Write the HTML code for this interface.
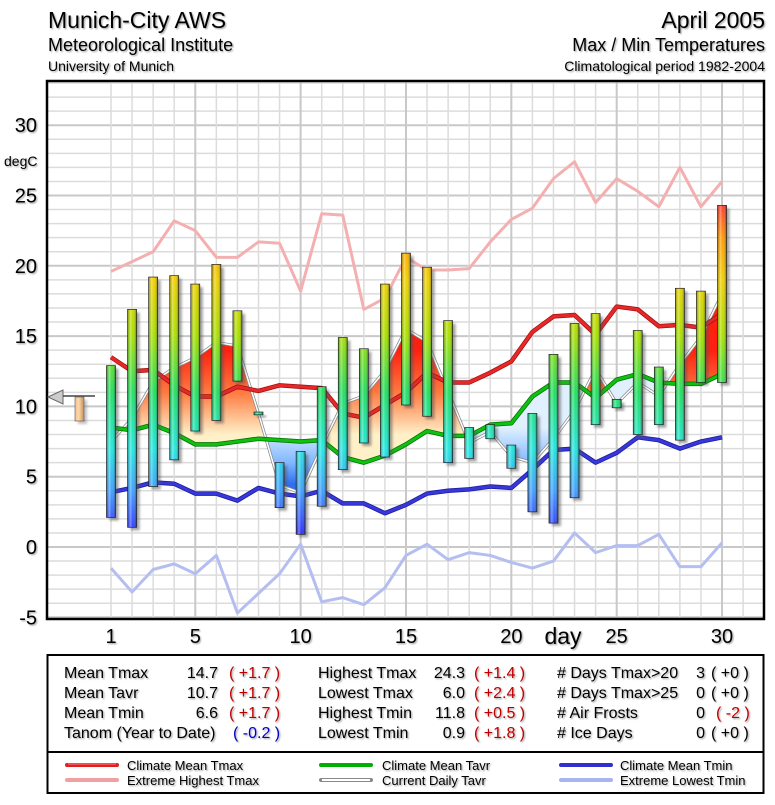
<!DOCTYPE html>
<html><head><meta charset="utf-8">
<style>
html,body{margin:0;padding:0;background:#fff;}
body{width:775px;height:800px;overflow:hidden;font-family:"Liberation Sans",sans-serif;}
svg text{font-family:"Liberation Sans",sans-serif;}
.sh{filter:url(#tshadow);}
</style></head><body>
<svg id="chart" width="775" height="800" viewBox="0 0 775 800" xmlns="http://www.w3.org/2000/svg">
<defs>
  <filter id="tshadow" x="-5%" y="-20%" width="110%" height="140%"><feDropShadow dx="1.2" dy="1.2" stdDeviation="0.8" flood-color="#000" flood-opacity="0.35"/></filter>
  <filter id="bshadow" x="-50%" y="-10%" width="200%" height="120%"><feGaussianBlur stdDeviation="1.2"/></filter>
  <linearGradient id="barGrad" gradientUnits="userSpaceOnUse" x1="0" y1="0" x2="0" y2="800"></linearGradient>
  <linearGradient id="cyl" x1="0" y1="0" x2="1" y2="0">
    <stop offset="0" stop-color="#000" stop-opacity="0.25"/>
    <stop offset="0.3" stop-color="#fff" stop-opacity="0.35"/>
    <stop offset="0.6" stop-color="#fff" stop-opacity="0"/>
    <stop offset="1" stop-color="#000" stop-opacity="0.45"/>
  </linearGradient>
  <linearGradient id="redFill" gradientUnits="userSpaceOnUse" x1="0" y1="0" x2="0" y2="800"></linearGradient>
  <linearGradient id="blueFill" gradientUnits="userSpaceOnUse" x1="0" y1="0" x2="0" y2="800"></linearGradient>
  <linearGradient id="tanGrad" x1="0" y1="0" x2="1" y2="0">
    <stop offset="0" stop-color="#f0c090"/><stop offset="0.4" stop-color="#ffd8a8"/><stop offset="1" stop-color="#c89060"/>
  </linearGradient>
  <clipPath id="clipAbove"><polygon id="clipAbovePoly" points=""/></clipPath>
  <clipPath id="clipBelow"><polygon id="clipBelowPoly" points=""/></clipPath>
</defs>

<g class="sh">
  <text x="48" y="28" font-size="23" fill="#000">Munich-City AWS</text>
  <text x="48" y="51" font-size="18" fill="#000">Meteorological Institute</text>
  <text x="48" y="71" font-size="14" fill="#000">University of Munich</text>
</g>
<g class="sh" text-anchor="end">
  <text x="765" y="28" font-size="23" fill="#000">April 2005</text>
  <text x="765" y="51" font-size="18" fill="#000">Max / Min Temperatures</text>
  <text x="765" y="71" font-size="14" fill="#000">Climatological period 1982-2004</text>
</g>

<g id="grid"></g>
<g id="fills"></g>
<g id="lines"></g>
<g id="bars"></g>
<g id="axes"></g>

<g>
  <polygon points="48,397 63,390 63,404" fill="#ccc" stroke="#666" stroke-width="1"/>
  <line x1="63" y1="396" x2="95" y2="396" stroke="#444" stroke-width="1.5"/>
  <rect x="78" y="400" width="9" height="24" fill="#888" opacity="0.5" filter="url(#bshadow)"/>
  <rect x="75" y="397" width="9" height="24" fill="url(#tanGrad)" stroke="#555" stroke-width="0.6"/>
</g>

<g>
  <rect x="47.5" y="655" width="716" height="138" fill="#fff" stroke="#000" stroke-width="2"/>
  <line x1="47" y1="752" x2="764" y2="752" stroke="#000" stroke-width="2"/>
  <g class="sh" font-size="16" fill="#000">
    <text x="64" y="678">Mean Tmax</text><text x="218" y="678" text-anchor="end">14.7</text><text x="229" y="678" fill="#c00000">( +1.7 )</text>
    <text x="64" y="698">Mean Tavr</text><text x="218" y="698" text-anchor="end">10.7</text><text x="229" y="698" fill="#c00000">( +1.7 )</text>
    <text x="64" y="718">Mean Tmin</text><text x="218" y="718" text-anchor="end">6.6</text><text x="229" y="718" fill="#c00000">( +1.7 )</text>
    <text x="64" y="738">Tanom (Year to Date)</text><text x="233" y="738" fill="#0000c0">( -0.2 )</text>
    <text x="318" y="678">Highest Tmax</text><text x="465" y="678" text-anchor="end">24.3</text><text x="474" y="678" fill="#c00000">( +1.4 )</text>
    <text x="318" y="698">Lowest Tmax</text><text x="465" y="698" text-anchor="end">6.0</text><text x="474" y="698" fill="#c00000">( +2.4 )</text>
    <text x="318" y="718">Highest Tmin</text><text x="465" y="718" text-anchor="end">11.8</text><text x="474" y="718" fill="#c00000">( +0.5 )</text>
    <text x="318" y="738">Lowest Tmin</text><text x="465" y="738" text-anchor="end">0.9</text><text x="474" y="738" fill="#c00000">( +1.8 )</text>
    <text x="557" y="678"># Days Tmax&gt;20</text><text x="705" y="678" text-anchor="end">3</text><text x="711" y="678">( +0 )</text>
    <text x="557" y="698"># Days Tmax&gt;25</text><text x="705" y="698" text-anchor="end">0</text><text x="711" y="698">( +0 )</text>
    <text x="557" y="718"># Air Frosts</text><text x="705" y="718" text-anchor="end">0</text><text x="716" y="718" fill="#c00000">( -2 )</text>
    <text x="557" y="738"># Ice Days</text><text x="705" y="738" text-anchor="end">0</text><text x="711" y="738">( +0 )</text>
  </g>
</g>

<g font-size="13">
  <g><line x1="67" y1="765" x2="117" y2="765" stroke="#e02020" stroke-width="4" stroke-linecap="round"/><line x1="68" y1="764" x2="116" y2="764" stroke="#ff8080" stroke-width="1"/><text class="sh" x="127" y="770">Climate Mean Tmax</text></g>
  <g><line x1="67" y1="780" x2="117" y2="780" stroke="#f0a0a0" stroke-width="4" stroke-linecap="round"/><text class="sh" x="127" y="785">Extreme Highest Tmax</text></g>
  <g><line x1="321" y1="765" x2="371" y2="765" stroke="#00b000" stroke-width="4" stroke-linecap="round"/><text class="sh" x="382" y="770">Climate Mean Tavr</text></g>
  <g><line x1="321" y1="780" x2="371" y2="780" stroke="#888" stroke-width="4" stroke-linecap="round"/><line x1="322" y1="780" x2="370" y2="780" stroke="#fff" stroke-width="2"/><text class="sh" x="382" y="785">Current Daily Tavr</text></g>
  <g><line x1="561" y1="765" x2="611" y2="765" stroke="#3030d0" stroke-width="4" stroke-linecap="round"/><text class="sh" x="620" y="770">Climate Mean Tmin</text></g>
  <g><line x1="561" y1="780" x2="611" y2="780" stroke="#a8b4f0" stroke-width="4" stroke-linecap="round"/><text class="sh" x="620" y="785">Extreme Lowest Tmin</text></g>
</g>
</svg>
<script>
const days = [1,2,3,4,5,6,7,8,9,10,11,12,13,14,15,16,17,18,19,20,21,22,23,24,25,26,27,28,29,30];
const tmax = [12.9,16.9,19.2,19.3,18.7,20.1,16.8,9.6,6.0,6.8,11.4,14.9,14.1,18.7,20.9,19.9,16.1,8.5,8.7,7.25,9.5,13.7,15.9,16.6,10.5,15.4,12.8,18.4,18.2,24.3];
const tmin = [2.1,1.4,4.3,6.2,8.25,9.0,11.8,9.4,2.8,0.9,2.9,5.5,7.4,6.4,10.1,9.3,6.0,6.3,7.7,5.6,2.5,1.7,3.5,8.7,9.9,8.0,8.7,7.6,11.7,11.7];
const climTmax = [13.5,12.5,12.6,11.5,10.7,10.7,11.4,11.1,11.5,11.4,11.3,9.5,9.2,10.1,11.0,12.4,11.7,11.7,12.4,13.2,15.3,16.4,16.5,15.1,17.1,16.9,15.7,15.8,15.6,16.6];
const climTavr = [8.5,8.3,8.7,8.1,7.3,7.3,7.5,7.7,7.6,7.5,7.6,6.4,6.0,6.5,7.3,8.25,7.9,7.9,8.7,8.8,10.7,11.7,11.7,10.6,11.9,12.3,11.7,11.6,11.6,12.3];
const climTmin = [3.9,4.2,4.6,4.5,3.8,3.8,3.3,4.2,3.8,3.6,4.0,3.1,3.1,2.4,3.0,3.8,4.0,4.1,4.3,4.2,5.5,6.9,7.0,6.0,6.7,7.8,7.6,7.0,7.5,7.8];
const extHighTmax = [19.6,20.3,21.0,23.2,22.5,20.6,20.6,21.7,21.6,18.2,23.7,23.6,16.9,17.7,20.6,19.7,19.7,19.8,21.7,23.3,24.1,26.2,27.4,24.5,26.2,25.3,24.2,27.0,24.2,26.0];
const extLowTmin = [-1.5,-3.2,-1.6,-1.2,-1.9,-0.6,-4.7,-3.3,-1.9,0.2,-3.9,-3.6,-4.1,-2.9,-0.6,0.2,-0.9,-0.4,-0.6,-1.1,-1.5,-1.0,1.0,-0.4,0.1,0.1,0.9,-1.4,-1.4,0.3];
const yTicks = [-5,0,5,10,15,20,25,30];
const xTicks = [1,5,10,15,20,25,30];

const NS = 'http://www.w3.org/2000/svg';
const L = 47, R = 764, T = 81, B = 619;
function xs(d){ return 111 + (d-1)*21.07; }
function ys(v){ return 547 - v*14.06; }
function mk(tag, attrs, parent){ const e = document.createElementNS(NS, tag); for (const k in attrs) e.setAttribute(k, attrs[k]); parent.appendChild(e); return e; }

const bg = document.getElementById('barGrad');
[[25,'#ff2040'],[22,'#ff9a00'],[19,'#f0d000'],[15,'#a8e000'],[11,'#20e060'],[7,'#20e8e0'],[4,'#40a0ff'],[1,'#3030ff']].forEach(s=>{
  mk('stop',{offset:(ys(s[0])/800).toFixed(4),'stop-color':s[1]},bg);
});
const rf = document.getElementById('redFill');
[[14,'#ff2010'],[11,'#ff7a40'],[8,'#fff0c8']].forEach(s=>mk('stop',{offset:(ys(s[0])/800).toFixed(4),'stop-color':s[1]},rf));
const bf = document.getElementById('blueFill');
[[8.5,'#e0f0ff'],[6,'#80b8ff'],[4.5,'#3070f0']].forEach(s=>mk('stop',{offset:(ys(s[0])/800).toFixed(4),'stop-color':s[1]},bf));

const grid = document.getElementById('grid');
mk('rect',{x:L,y:T,width:R-L,height:B-T,fill:'#fff'},grid);
for (let v=-5; v<=33; v++){
  const y = ys(v); if (y<T||y>B) continue;
  const gl = mk('line',{x1:L,x2:R,y1:y,y2:y,stroke:(v%5===0)?'#c8c8c8':'#dcdcdc','stroke-width':(v%5===0)?2:1.5},grid);
  
  
}
for (let d=1; d<=31; d++){
  const x = xs(d);
  const gl = mk('line',{x1:x,x2:x,y1:T,y2:B,stroke:(d%5===0)?'#c8c8c8':'#dcdcdc','stroke-width':(d%5===0)?2:1.5},grid);
  
  
}

const tavr = days.map((d,i)=>(tmax[i]+tmin[i])/2);
const climPts = days.map((d,i)=>xs(d)+','+ys(climTavr[i]));
document.getElementById('clipAbovePoly').setAttribute('points', climPts.join(' ')+' '+xs(30)+','+T+' '+xs(1)+','+T);
document.getElementById('clipBelowPoly').setAttribute('points', climPts.join(' ')+' '+xs(30)+','+B+' '+xs(1)+','+B);
const areaPts = days.map((d,i)=>xs(d)+','+ys(tavr[i])).join(' ')+' '+days.slice().reverse().map(d=>xs(d)+','+ys(climTavr[d-1])).join(' ');
const fills = document.getElementById('fills');
const fa = mk('polygon',{points:areaPts,fill:'url(#redFill)','clip-path':'url(#clipAbove)'},fills);


const fb = mk('polygon',{points:areaPts,fill:'url(#blueFill)','clip-path':'url(#clipBelow)'},fills);



const lines = document.getElementById('lines');
function line(arr, color, w, name, under){
  const pts = days.map((d,i)=>xs(d)+','+ys(arr[i])).join(' ');
  if (under) mk('polyline',{points:pts,fill:'none',stroke:under,'stroke-width':w+1.5,'stroke-linejoin':'round'},lines);
  const p = mk('polyline',{points:pts,fill:'none',stroke:color,'stroke-width':w,'stroke-linejoin':'round'},lines);
  
  
}
line(extHighTmax,'#f4b0b0',3,'extreme-highest-tmax-line');
line(extLowTmin,'#b4bef0',3,'extreme-lowest-tmin-line');
line(tavr,'#ffffff',1.5,'current-daily-tavr-line','#888');
line(climTmax,'#e82828',3,'climate-mean-tmax-line','#a01010');
line(climTavr,'#10c010',3,'climate-mean-tavr-line','#007000');
line(climTmin,'#3838d8',3,'climate-mean-tmin-line','#1818a0');

const bars = document.getElementById('bars');
days.forEach((d,i)=>{
  const x = xs(d)-4.5, y1 = ys(tmax[i]), y2 = ys(tmin[i]);
  const h = Math.max(2, y2-y1);
  const g = mk('g',{},bars);
  
  
  mk('rect',{x:x+3,y:y1+3,width:9,height:h,fill:'#555',opacity:0.55,filter:'url(#bshadow)'},g);
  mk('rect',{x:x,y:y1,width:9,height:h,fill:'url(#barGrad)'},g);
  mk('rect',{x:x,y:y1,width:9,height:h,fill:'url(#cyl)',stroke:'#222','stroke-width':0.7},g);
});

const axes = document.getElementById('axes');
mk('rect',{x:L,y:T,width:R-L,height:B-T,fill:'none',stroke:'#000','stroke-width':2.5},axes);
yTicks.forEach(v=>{
  const t = mk('text',{x:37,y:ys(v)+7,'text-anchor':'end','font-size':20,filter:'url(#tshadow)'},axes);
  t.textContent = v;
  
  
});
xTicks.forEach(d=>{
  const t = mk('text',{x:xs(d),y:643,'text-anchor':'middle','font-size':20,filter:'url(#tshadow)'},axes);
  t.textContent = d;
  
  
});
const yt = mk('text',{x:4,y:166,'font-size':14,filter:'url(#tshadow)'},axes);
yt.textContent = 'degC';


const xt = mk('text',{x:563,y:644,'text-anchor':'middle','font-size':23,filter:'url(#tshadow)'},axes);
xt.textContent = 'day';


</script>
</body></html>
